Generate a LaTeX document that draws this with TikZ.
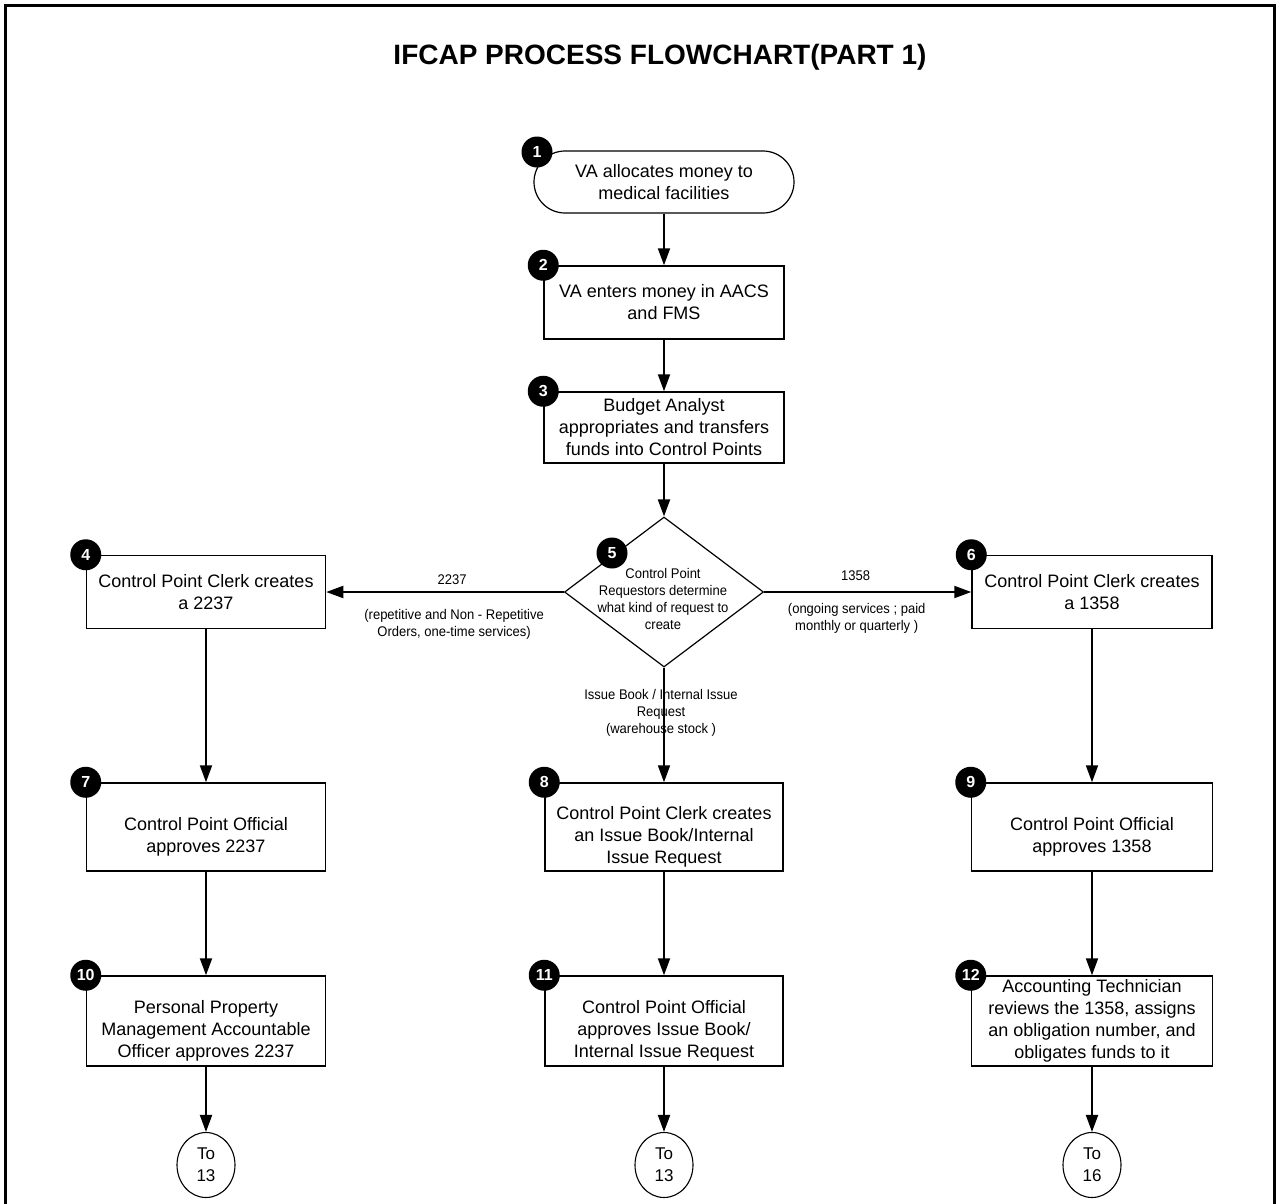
\documentclass[tikz,border=0pt]{standalone}
\usepackage{fontspec}
\setmainfont{Liberation Sans}
\newfontfamily\narrowfont[FakeStretch=0.93]{Liberation Sans}
\usetikzlibrary{shapes.geometric,shapes.misc,arrows.meta}
\begin{document}
\begin{tikzpicture}[x=1pt,y=-1pt,
  boxfont/.style={font=\fontsize{18}{22}\selectfont},
  smallfont/.style={font=\narrowfont\fontsize{14}{17}\selectfont},
  box/.style={draw,line width=1.5pt,inner sep=0pt,align=center,boxfont},
  terminal/.style={draw,line width=1.2pt,rounded rectangle,inner sep=0pt,align=center,boxfont},
  decision/.style={draw,line width=1.2pt,diamond,inner sep=0pt},
  offpage/.style={draw,line width=1.1pt,ellipse,inner sep=0pt,minimum width=58pt,minimum height=65pt,align=center,font=\fontsize{17}{22}\selectfont},
  badge/.style={circle,fill=black,inner sep=0pt,minimum size=31pt,text=white,font=\fontsize{16}{16}\selectfont\bfseries},
  lbl/.style={align=center,inner sep=0pt,smallfont},
  intext/.style={align=center,inner sep=0pt,boxfont,yshift=-10pt},
  flow/.style={line width=2pt,-{Triangle[length=17pt,width=12pt]}},
  frame/.style={line width=3.5pt}
]
\useasboundingbox (0,0) rectangle (1278,1203);
\fill[white] (0,0) rectangle (1278,1203);
\draw[frame] (5.5,1206) -- (5.5,5.5) -- (1274.5,5.5) -- (1274.5,1206);

\node[inner sep=0pt,font=\fontsize{28}{32}\selectfont\bfseries] (title) at (660,57) {IFCAP PROCESS FLOWCHART(PART 1)};

% main column
\node[terminal,minimum width=260pt,minimum height=62pt] (n1) at (664,182) {VA allocates money to\\medical facilities};
\node[box,minimum width=240pt,minimum height=73pt] (n2) at (664,302.5) {VA enters money in AACS\\and FMS};
\node[box,minimum width=240pt,minimum height=71pt] (n3) at (664,427.5) {Budget Analyst\\appropriates and transfers\\funds into Control Points};
\node[decision,minimum width=199pt,minimum height=150pt] (d5) at (664,592) {};
\node[lbl] (d5text) at (663,599) {Control Point\\Requestors determine\\what kind of request to\\create};

% left / right of decision
\node[box,minimum width=239pt,minimum height=73pt] (n4) at (206,592) {Control Point Clerk creates\\a 2237};
\node[box,minimum width=240pt,minimum height=73pt] (n6) at (1092,592) {Control Point Clerk creates\\a 1358};

% second row
\node[box,minimum width=239pt,minimum height=88pt,label={[name=t7,intext]center:{Control Point Official\\approves 2237}}] (n7) at (206,827) {};
\node[box,minimum width=238pt,minimum height=88pt,label={[name=t8,intext]center:{Control Point Clerk creates\\an Issue Book/Internal\\Issue Request}}] (n8) at (664,827) {};
\node[box,minimum width=241pt,minimum height=88pt,label={[name=t9,intext]center:{Control Point Official\\approves 1358}}] (n9) at (1092,827) {};

% third row
\node[box,minimum width=239pt,minimum height=90pt,label={[name=t10,intext]center:{Personal Property\\Management Accountable\\Officer approves 2237}}] (n10) at (206,1021) {};
\node[box,minimum width=238pt,minimum height=90pt,label={[name=t11,intext]center:{Control Point Official\\approves Issue Book/\\Internal Issue Request}}] (n11) at (664,1021) {};
\node[box,minimum width=241pt,minimum height=90pt] (n12) at (1092,1021) {Accounting Technician\\reviews the 1358, assigns\\an obligation number, and\\obligates funds to it};

% off-page connectors
\node[offpage] (c1) at (206,1165) {To\\13};
\node[offpage] (c2) at (664,1165) {To\\13};
\node[offpage] (c3) at (1092,1165) {To\\16};

% badges
\node[badge] (b1) at (537,152) {1};
\node[badge] (b2) at (n2.north west) {2};
\node[badge] (b3) at (n3.north west) {3};
\node[badge] (b4) at (n4.north west) {4};
\node[badge] (b5) at (612,553) {5};
\node[badge] (b6) at (n6.north west) {6};
\node[badge] (b7) at (n7.north west) {7};
\node[badge] (b8) at (n8.north west) {8};
\node[badge] (b9) at (n9.north west) {9};
\node[badge] (b10) at (n10.north west) {10};
\node[badge] (b11) at (n11.north west) {11};
\node[badge] (b12) at (n12.north west) {12};

% connectors
\draw[flow] (n1.south) -- (n2.north);
\draw[flow] (n2.south) -- (n3.north);
\draw[flow] (n3.south) -- (d5.north);
\draw[flow] (d5.west) -- node[lbl,midway,xshift=7pt,yshift=12pt] (l2237) {2237}
  node[lbl,midway,xshift=9pt,yshift=-32pt] (l2237b) {(repetitive and Non - Repetitive\\Orders, one-time services)} (n4.east);
\draw[flow] (d5.east) -- node[lbl,midway,xshift=-12pt,yshift=16pt] (l1358) {1358}
  node[lbl,midway,xshift=-11pt,yshift=-26pt] (l1358b) {(ongoing services ; paid\\monthly or quarterly )} (n6.west);
\draw[flow] (d5.south) -- node[lbl,midway,xshift=-3pt,yshift=12pt] (lissue) {Issue Book / Internal Issue\\Request\\(warehouse stock )} (n8.north);
\draw[flow] (n4.south) -- (n7.north);
\draw[flow] (n6.south) -- (n9.north);
\draw[flow] (n7.south) -- (n10.north);
\draw[flow] (n8.south) -- (n11.north);
\draw[flow] (n9.south) -- (n12.north);
\draw[flow] (n10.south) -- (c1.north);
\draw[flow] (n11.south) -- (c2.north);
\draw[flow] (n12.south) -- (c3.north);
\end{tikzpicture}
\end{document}
